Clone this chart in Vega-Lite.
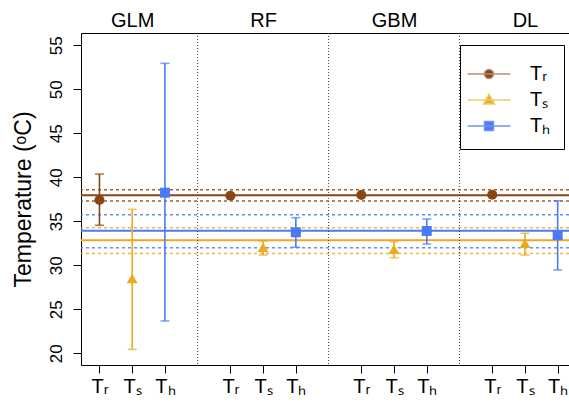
{
  "$schema": "https://vega.github.io/schema/vega-lite/v6.json",
  "width": 488,
  "height": 332,
  "autosize": "none",
  "padding": {"left": 81, "top": 33, "right": 0, "bottom": 38},
  "config": {
    "view": {"stroke": null},
    "font": "Liberation Sans",
    "axis": {"grid": false, "domainColor": "#000000", "tickColor": "#000000", "labelColor": "#000000", "titleColor": "#000000", "domainWidth": 1, "tickWidth": 1},
    "axisY": {"values": [20, 25, 30, 35, 40, 45, 50, 55], "tickSize": 8, "labelAngle": -90, "labelAlign": "center", "labelBaseline": "bottom", "labelPadding": 8, "labelFontSize": 17, "titleFontSize": 23, "titleFontWeight": "normal", "titlePadding": 12}
  },
  "datasets": {
    "pts": [
      {"model": "GLM", "series": "Tᵣ", "key": "GLM Tᵣ", "value": 37.42, "lo": 34.55, "hi": 40.37},
      {"model": "GLM", "series": "Tₛ", "key": "GLM Tₛ", "value": 28.5, "lo": 20.45, "hi": 36.36},
      {"model": "GLM", "series": "Tₕ", "key": "GLM Tₕ", "value": 38.25, "lo": 23.67, "hi": 52.95},
      {"model": "RF", "series": "Tᵣ", "key": "RF Tᵣ", "value": 37.91, "lo": 37.75, "hi": 38.07},
      {"model": "RF", "series": "Tₛ", "key": "RF Tₛ", "value": 32.05, "lo": 31.17, "hi": 32.76},
      {"model": "RF", "series": "Tₕ", "key": "RF Tₕ", "value": 33.75, "lo": 32.05, "hi": 35.41},
      {"model": "GBM", "series": "Tᵣ", "key": "GBM Tᵣ", "value": 37.99, "lo": 37.85, "hi": 38.13},
      {"model": "GBM", "series": "Tₛ", "key": "GBM Tₛ", "value": 31.82, "lo": 30.86, "hi": 32.68},
      {"model": "GBM", "series": "Tₕ", "key": "GBM Tₕ", "value": 33.9, "lo": 32.42, "hi": 35.26},
      {"model": "DL", "series": "Tᵣ", "key": "DL Tᵣ", "value": 38.02, "lo": 37.88, "hi": 38.16},
      {"model": "DL", "series": "Tₛ", "key": "DL Tₛ", "value": 32.5, "lo": 31.17, "hi": 33.64},
      {"model": "DL", "series": "Tₕ", "key": "DL Tₕ", "value": 33.44, "lo": 29.47, "hi": 37.34}
    ],
    "ref": [
      {"series": "Tᵣ", "kind": "mean", "value": 37.95},
      {"series": "Tᵣ", "kind": "bound", "value": 37.31},
      {"series": "Tᵣ", "kind": "bound", "value": 38.6},
      {"series": "Tₛ", "kind": "mean", "value": 32.85},
      {"series": "Tₛ", "kind": "bound", "value": 31.34},
      {"series": "Tₛ", "kind": "bound", "value": 34.28},
      {"series": "Tₕ", "kind": "mean", "value": 33.92},
      {"series": "Tₕ", "kind": "bound", "value": 32.0},
      {"series": "Tₕ", "kind": "bound", "value": 35.75}
    ],
    "sep": [{"key": "s1"}, {"key": "s2"}, {"key": "s3"}]
  },
  "layer": [
    {
      "data": {"name": "ref"},
      "transform": [{"filter": "datum.kind == 'bound'"}],
      "mark": {"type": "rule", "strokeWidth": 1.5, "strokeDash": [3, 3], "opacity": 0.85},
      "encoding": {
        "y": {"field": "value", "type": "quantitative", "title": "Temperature (ᵒC)", "scale": {"domain": [18.67, 56.4], "nice": false, "zero": false}},
        "color": {"field": "series", "type": "nominal", "scale": {"domain": ["Tᵣ", "Tₕ", "Tₛ"], "range": ["#8B4513", "#4A7BF5", "#EDAA1F"]}, "legend": null}
      }
    },
    {
      "data": {"name": "ref"},
      "transform": [{"filter": "datum.kind == 'mean'"}],
      "mark": {"type": "rule", "strokeWidth": 2},
      "encoding": {
        "y": {"field": "value", "type": "quantitative", "title": "Temperature (ᵒC)", "scale": {"domain": [18.67, 56.4], "nice": false, "zero": false}},
        "color": {"field": "series", "type": "nominal", "scale": {"domain": ["Tᵣ", "Tₕ", "Tₛ"], "range": ["#8B4513", "#4A7BF5", "#EDAA1F"]}, "legend": null}
      }
    },
    {
      "data": {"name": "sep"},
      "mark": {"type": "rule", "strokeWidth": 1, "strokeDash": [1, 2], "color": "#444444"},
      "encoding": {
        "x": {"field": "key", "type": "nominal", "sort": null,
              "scale": {"type": "point", "domain": ["GLM Tᵣ", "GLM Tₛ", "GLM Tₕ", "s1", "RF Tᵣ", "RF Tₛ", "RF Tₕ", "s2", "GBM Tᵣ", "GBM Tₛ", "GBM Tₕ", "s3", "DL Tᵣ", "DL Tₛ", "DL Tₕ"], "padding": 0.455, "align": 0.62},
              "axis": {"orient": "top", "title": null, "values": ["GLM Tₛ", "RF Tₛ", "GBM Tₛ", "DL Tₛ"], "labelExpr": "split(datum.label, ' ')[0]", "tickSize": 0, "labelAngle": 0, "labelFontSize": 20, "labelPadding": 3}}
      }
    },
    {
      "data": {"name": "pts"},
      "mark": {"type": "rule", "strokeWidth": 1.6},
      "encoding": {
        "x": {"field": "key", "type": "nominal", "sort": null,
              "scale": {"type": "point", "domain": ["GLM Tᵣ", "GLM Tₛ", "GLM Tₕ", "s1", "RF Tᵣ", "RF Tₛ", "RF Tₕ", "s2", "GBM Tᵣ", "GBM Tₛ", "GBM Tₕ", "s3", "DL Tᵣ", "DL Tₛ", "DL Tₕ"], "padding": 0.455, "align": 0.62},
              "axis": {"orient": "bottom", "title": null, "values": ["GLM Tᵣ", "GLM Tₛ", "GLM Tₕ", "RF Tᵣ", "RF Tₛ", "RF Tₕ", "GBM Tᵣ", "GBM Tₛ", "GBM Tₕ", "DL Tᵣ", "DL Tₛ", "DL Tₕ"], "labelExpr": "split(datum.label, ' ')[1]", "tickSize": 8, "labelAngle": 0, "labelFontSize": 20, "labelPadding": 3}},
        "y": {"field": "lo", "type": "quantitative", "title": "Temperature (ᵒC)", "scale": {"domain": [18.67, 56.4], "nice": false, "zero": false}},
        "y2": {"field": "hi"},
        "color": {"field": "series", "type": "nominal", "scale": {"domain": ["Tᵣ", "Tₕ", "Tₛ"], "range": ["#8B4513", "#4A7BF5", "#EDAA1F"]}, "legend": null}
      }
    },
    {
      "data": {"name": "pts"},
      "mark": {"type": "tick", "orient": "horizontal", "size": 9, "thickness": 1.6},
      "encoding": {
        "x": {"field": "key", "type": "nominal", "sort": null,
              "scale": {"type": "point", "domain": ["GLM Tᵣ", "GLM Tₛ", "GLM Tₕ", "s1", "RF Tᵣ", "RF Tₛ", "RF Tₕ", "s2", "GBM Tᵣ", "GBM Tₛ", "GBM Tₕ", "s3", "DL Tᵣ", "DL Tₛ", "DL Tₕ"], "padding": 0.455, "align": 0.62}, "axis": null},
        "y": {"field": "lo", "type": "quantitative", "title": "Temperature (ᵒC)", "scale": {"domain": [18.67, 56.4], "nice": false, "zero": false}},
        "color": {"field": "series", "type": "nominal", "scale": {"domain": ["Tᵣ", "Tₕ", "Tₛ"], "range": ["#8B4513", "#4A7BF5", "#EDAA1F"]}, "legend": null}
      }
    },
    {
      "data": {"name": "pts"},
      "mark": {"type": "tick", "orient": "horizontal", "size": 9, "thickness": 1.6},
      "encoding": {
        "x": {"field": "key", "type": "nominal", "sort": null,
              "scale": {"type": "point", "domain": ["GLM Tᵣ", "GLM Tₛ", "GLM Tₕ", "s1", "RF Tᵣ", "RF Tₛ", "RF Tₕ", "s2", "GBM Tᵣ", "GBM Tₛ", "GBM Tₕ", "s3", "DL Tᵣ", "DL Tₛ", "DL Tₕ"], "padding": 0.455, "align": 0.62}, "axis": null},
        "y": {"field": "hi", "type": "quantitative", "title": "Temperature (ᵒC)", "scale": {"domain": [18.67, 56.4], "nice": false, "zero": false}},
        "color": {"field": "series", "type": "nominal", "scale": {"domain": ["Tᵣ", "Tₕ", "Tₛ"], "range": ["#8B4513", "#4A7BF5", "#EDAA1F"]}, "legend": null}
      }
    },
    {
      "data": {"name": "pts"},
      "transform": [{"filter": "datum.series == 'Tᵣ'"}],
      "mark": {"type": "point", "shape": "circle", "filled": true, "size": 100, "opacity": 1},
      "encoding": {
        "x": {"field": "key", "type": "nominal", "sort": null,
              "scale": {"type": "point", "domain": ["GLM Tᵣ", "GLM Tₛ", "GLM Tₕ", "s1", "RF Tᵣ", "RF Tₛ", "RF Tₕ", "s2", "GBM Tᵣ", "GBM Tₛ", "GBM Tₕ", "s3", "DL Tᵣ", "DL Tₛ", "DL Tₕ"], "padding": 0.455, "align": 0.62}, "axis": null},
        "y": {"field": "value", "type": "quantitative", "title": "Temperature (ᵒC)", "scale": {"domain": [18.67, 56.4], "nice": false, "zero": false}},
        "color": {"field": "series", "type": "nominal", "scale": {"domain": ["Tᵣ", "Tₕ", "Tₛ"], "range": ["#8B4513", "#4A7BF5", "#EDAA1F"]}, "legend": null}
      }
    },
    {
      "data": {"name": "pts"},
      "transform": [{"filter": "datum.series == 'Tₛ'"}],
      "mark": {"type": "point", "shape": "triangle-up", "filled": true, "size": 120, "opacity": 1},
      "encoding": {
        "x": {"field": "key", "type": "nominal", "sort": null,
              "scale": {"type": "point", "domain": ["GLM Tᵣ", "GLM Tₛ", "GLM Tₕ", "s1", "RF Tᵣ", "RF Tₛ", "RF Tₕ", "s2", "GBM Tᵣ", "GBM Tₛ", "GBM Tₕ", "s3", "DL Tᵣ", "DL Tₛ", "DL Tₕ"], "padding": 0.455, "align": 0.62}, "axis": null},
        "y": {"field": "value", "type": "quantitative", "title": "Temperature (ᵒC)", "scale": {"domain": [18.67, 56.4], "nice": false, "zero": false}},
        "color": {"field": "series", "type": "nominal", "scale": {"domain": ["Tᵣ", "Tₕ", "Tₛ"], "range": ["#8B4513", "#4A7BF5", "#EDAA1F"]}, "legend": null}
      }
    },
    {
      "data": {"name": "pts"},
      "transform": [{"filter": "datum.series == 'Tₕ'"}],
      "mark": {"type": "point", "shape": "square", "filled": true, "size": 100, "opacity": 1},
      "encoding": {
        "x": {"field": "key", "type": "nominal", "sort": null,
              "scale": {"type": "point", "domain": ["GLM Tᵣ", "GLM Tₛ", "GLM Tₕ", "s1", "RF Tᵣ", "RF Tₛ", "RF Tₕ", "s2", "GBM Tᵣ", "GBM Tₛ", "GBM Tₕ", "s3", "DL Tᵣ", "DL Tₛ", "DL Tₕ"], "padding": 0.455, "align": 0.62}, "axis": null},
        "y": {"field": "value", "type": "quantitative", "title": "Temperature (ᵒC)", "scale": {"domain": [18.67, 56.4], "nice": false, "zero": false}},
        "color": {"field": "series", "type": "nominal", "scale": {"domain": ["Tᵣ", "Tₕ", "Tₛ"], "range": ["#8B4513", "#4A7BF5", "#EDAA1F"]}, "legend": null}
      }
    },
    {
      "data": {"name": "pts"},
      "transform": [{"filter": "datum.model == 'none'"}],
      "mark": {"type": "point", "filled": true, "opacity": 1},
      "encoding": {
        "fill": {"field": "series", "type": "nominal", "title": null, "scale": {"domain": ["Tᵣ", "Tₛ", "Tₕ"], "range": ["#8B4513", "#EDAA1F", "#4A7BF5"]},
                 "legend": {"orient": "none", "legendX": 379, "legendY": 12, "strokeColor": "#000000", "padding": 13, "labelFontSize": 20, "labelColor": "#000000", "symbolSize": 900, "symbolStrokeWidth": 1.5, "rowPadding": 0, "labelOffset": 25, "symbolOpacity": 1}},
        "stroke": {"field": "series", "type": "nominal", "title": null, "scale": {"domain": ["Tᵣ", "Tₛ", "Tₕ"], "range": ["#B98B74", "#F2C96A", "#6F95F3"]}},
        "shape": {"field": "series", "type": "nominal", "title": null, "scale": {"domain": ["Tᵣ", "Tₛ", "Tₕ"], "range": ["M-1.43,0H1.43M0.3,0A0.3,0.3,0,1,1,-0.3,0A0.3,0.3,0,1,1,0.3,0Z", "M-1.43,0H1.43M0,-0.38L0.37,0.27L-0.37,0.27Z", "M-1.43,0H1.43M-0.3,-0.3H0.3V0.3H-0.3Z"]}}
      }
    }
  ],
  "resolve": {"axis": {"x": "independent"}}
}
